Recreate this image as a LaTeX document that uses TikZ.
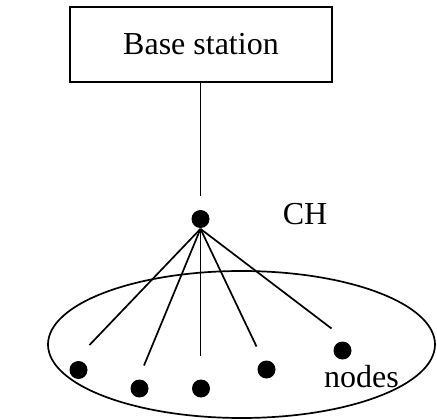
\documentclass[tikz,border=0pt]{standalone}
\usepackage{fontspec}
\setmainfont{Liberation Serif}
\tikzset{
  dot/.style={circle, fill=black, inner sep=0pt, minimum size=18pt},
  lbl/.style={font=\fontsize{32}{38}\selectfont, inner sep=0pt},
}
\begin{document}
\begin{tikzpicture}[x=1pt, y=-1pt, line width=1.7pt]
        \useasboundingbox (0,0) rectangle (437,420);

        \node[draw, minimum width=262pt, minimum height=75pt, inner sep=0pt,
              font=\fontsize{32}{38}\selectfont] (bs) at (201,44.5) {Base station};

        \node[dot] (ch) at (200.5,219) {};
        \node[lbl, anchor=base] (chl) at (305,224) {CH};

        \draw (241.5,344.5) ellipse (193.5 and 73.5);

        \node[dot] (n1) at (78.5,370) {};
        \node[dot] (n2) at (139.5,388.5) {};
        \node[dot] (n3) at (201,388.5) {};
        \node[dot] (n4) at (266.5,369.5) {};
        \node[dot] (n5) at (342.5,350.5) {};
        \node[lbl, anchor=base] (nl) at (361.5,387) {nodes};

        \coordinate (e1) at (89.5,345);
        \coordinate (e2) at (144,365.5);
        \coordinate (e3) at (200.5,356);
        \coordinate (e4) at (256.5,346.5);
        \coordinate (e5) at (331.5,328.5);

        \draw (bs.south -| ch) -- ++(0,113);
        \foreach \e in {e1,e2,e3,e4,e5}
            \draw (ch.south) -- (\e);

    \end{tikzpicture}
\end{document}
